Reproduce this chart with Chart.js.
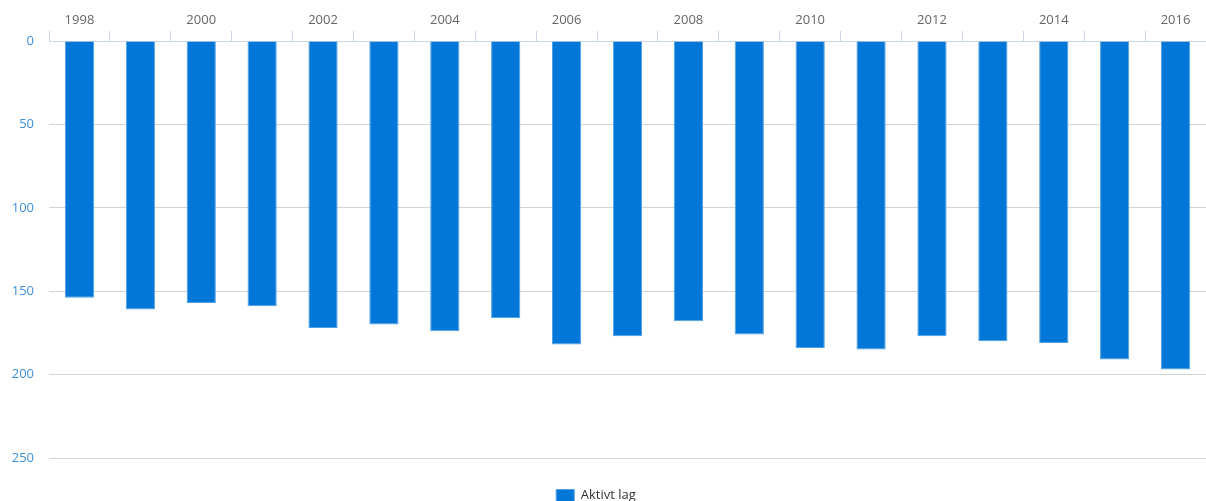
<!DOCTYPE html>
<html>
<head>
<meta charset="utf-8">
<script src="https://cdn.jsdelivr.net/npm/chart.js@4/dist/chart.umd.min.js"></script>
<style>
  html, body { margin: 0; padding: 0; background: #ffffff; }
  #wrap { width: 1206px; height: 501px; position: relative; }
</style>
</head>
<body>
<div id="wrap"><canvas id="c" width="1206" height="501"></canvas></div>
<script>
const years = ['1998','1999','2000','2001','2002','2003','2004','2005','2006','2007','2008','2009','2010','2011','2012','2013','2014','2015','2016'];
const aktivtLag = [154, 161, 157, 159, 172, 170, 174, 166, 182, 177, 168, 176, 184, 185, 177, 180, 181, 191, 197];
const yTicks = [0, 50, 100, 150, 200, 250];
const seriesName = 'Aktivt lag';

const FONT = '"Open Sans", "DejaVu Sans", sans-serif';

const shiftLegend = {
  id: 'shiftLegend',
  afterLayout(chart) {
    const lg = chart.legend;
    if (!lg) return;
    const targetTop = 479;
    const dy = targetTop - lg.top;
    lg.top += dy;
    lg.bottom += dy;
    lg.left -= 7;
    lg.right -= 7;
  }
};

new Chart(document.getElementById('c'), {
  type: 'bar',
  data: {
    labels: years,
    datasets: [{
      label: seriesName,
      data: aktivtLag,
      backgroundColor: '#0377d8',
      borderColor: '#4fa0e4',
      borderWidth: 1,
      barPercentage: 1,
      categoryPercentage: 0.48
    }]
  },
  options: {
    responsive: false,
    animation: false,
    layout: { padding: { left: 0, right: 0, top: 0, bottom: 10 } },
    scales: {
      x: {
        position: 'top',
        offset: true,
        grid: {
          offset: true,
          drawOnChartArea: false,
          drawTicks: true,
          tickLength: 10,
          color: '#ccd6eb',
          lineWidth: 1
        },
        border: { display: true, color: '#ccd6eb', width: 1 },
        ticks: {
          autoSkip: false,
          maxRotation: 0,
          color: '#666666',
          font: { family: FONT, size: 13 },
          padding: 3,
          callback: function(v, i) { return i % 2 === 0 ? years[i] : ''; }
        },
        afterFit: function(s) { s.height = 41; }
      },
      y: {
        reverse: true,
        min: 0,
        max: 250,
        afterBuildTicks: function(s) { s.ticks = yTicks.map(v => ({ value: v })); },
        grid: {
          color: '#d4d4d4',
          lineWidth: 1,
          drawTicks: false
        },
        border: { display: false },
        ticks: {
          color: '#3d8fdc',
          font: { family: FONT, size: 13 },
          padding: 15
        },
        afterFit: function(s) { s.width = 49; }
      }
    },
    plugins: {
      legend: {
        display: true,
        position: 'bottom',
        labels: {
          boxWidth: 18,
          boxHeight: 12,
          padding: 10,
          color: '#333333',
          font: { family: FONT, size: 13 }
        }
      },
      tooltip: { enabled: false }
    }
  },
  plugins: [shiftLegend]
});
</script>
</body>
</html>
